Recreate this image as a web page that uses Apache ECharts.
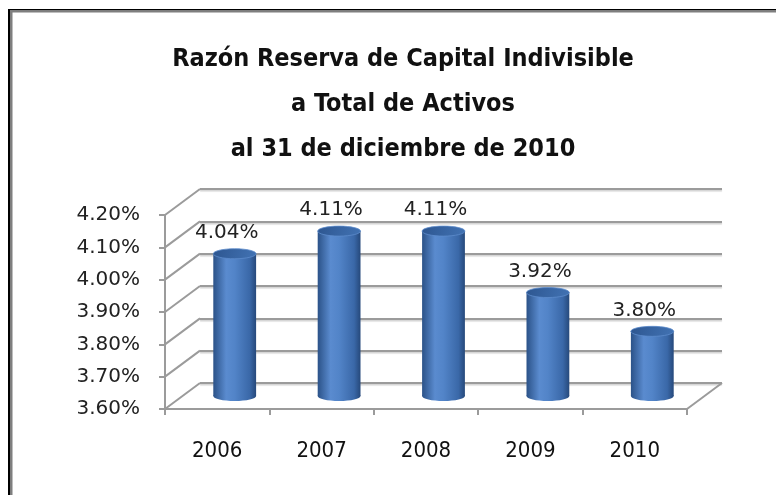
<!DOCTYPE html>
<html>
<head>
<meta charset="utf-8">
<script src="https://cdn.jsdelivr.net/npm/echarts@6/dist/echarts.min.js"></script>
<style>
  html, body { margin: 0; padding: 0; background: #fff; }
  #chart { width: 776px; height: 495px; }
</style>
</head>
<body>
<div id="chart"></div>
<script>
const titleLines = ['Razón Reserva de Capital Indivisible', 'a Total de Activos', 'al 31 de diciembre de 2010'];
const years = ['2006', '2007', '2008', '2009', '2010'];
const ratios = [4.04, 4.11, 4.11, 3.92, 3.80];
const yTicks = [3.6, 3.7, 3.8, 3.9, 4.0, 4.1, 4.2];

const Y_MIN = 3.6;
const Y_MAX = 4.2;
const DX = 35; // depth offset of the back wall
const DY = -26;
const GRID_W = 522;
const GRID_H = 194;
const FRONT = { left: 165, top: 215 };
const gridGray = '#9b9b9b';

const chart = echarts.init(document.getElementById('chart'));

const grids = [0, 0.5, 1].map(k => ({
    left: FRONT.left + DX * k,
    top: FRONT.top + DY * k,
    width: GRID_W,
    height: GRID_H,
}));

const yBase = {
    type: 'value',
    min: Y_MIN,
    max: Y_MAX,
    interval: 0.1,
};

chart.setOption({
    animation: false,
    title: {
        text: titleLines.join('\n'),
        left: 398,
        top: 32,
        textAlign: 'center',
        textStyle: {
            fontFamily: "'DejaVu Sans Condensed', 'DejaVu Sans', sans-serif",
            fontWeight: 'bold',
            fontSize: 25,
            lineHeight: 45,
            color: '#111',
        },
    },
    graphic: [
        { type: 'rect', shape: { x: 8, y: 9, width: 2, height: 486 }, style: { fill: '#000' } },
        { type: 'rect', shape: { x: 8, y: 9, width: 768, height: 1.5 }, style: { fill: '#000' } },
        { type: 'rect', shape: { x: 10, y: 10.5, width: 2.5, height: 485 }, style: { fill: '#7f7f7f' } },
        { type: 'rect', shape: { x: 10, y: 10.5, width: 766, height: 2 }, style: { fill: '#7f7f7f' } },
    ],
    grid: grids,
    xAxis: [
        {
            gridIndex: 0,
            type: 'category',
            data: years,
            axisLine: { lineStyle: { color: gridGray, width: 2 } },
            axisTick: { show: true, length: 6, lineStyle: { color: gridGray, width: 2 } },
            axisLabel: {
                margin: 31,
                fontSize: 22,
                color: '#111',
                fontFamily: "'DejaVu Sans Condensed', 'DejaVu Sans', sans-serif",
            },
        },
        { gridIndex: 1, type: 'category', data: years, show: false },
        { gridIndex: 2, type: 'category', data: years, show: false },
    ],
    yAxis: [
        {
            ...yBase,
            gridIndex: 0,
            axisLine: { show: true, lineStyle: { color: gridGray, width: 2 } },
            axisTick: { show: true, length: 6, lineStyle: { color: gridGray, width: 2 } },
            splitLine: { show: false },
            axisLabel: {
                margin: 25,
                fontSize: 20,
                color: '#222',
                fontFamily: "'DejaVu Sans', sans-serif",
                formatter: v => v.toFixed(2) + '%',
            },
        },
        { ...yBase, gridIndex: 1, show: false },
        {
            ...yBase,
            gridIndex: 2,
            axisLine: { show: false },
            axisTick: { show: false },
            axisLabel: { show: false },
            splitLine: {
                show: true,
                lineStyle: {
                    color: gridGray,
                    width: 2,
                    shadowColor: 'rgba(0,0,0,0.18)',
                    shadowOffsetY: 1.5,
                    shadowBlur: 1,
                },
            },
        },
    ],
    series: [
        {
            // side wall and floor edges linking the front axis to the back wall
            type: 'custom',
            xAxisIndex: 0,
            yAxisIndex: 0,
            silent: true,
            data: yTicks.map(v => [0, v]),
            renderItem: (params, api) => {
                const cs = params.coordSys;
                const y = api.coord([0, api.value(1)])[1];
                const children = [{
                    type: 'line',
                    shape: { x1: cs.x, y1: y, x2: cs.x + DX, y2: y + DY },
                    style: { stroke: gridGray, lineWidth: 2 },
                }];
                if (api.value(1) === Y_MIN) {
                    const xr = cs.x + cs.width;
                    children.push({
                        type: 'line',
                        shape: { x1: xr, y1: y, x2: xr + DX, y2: y + DY },
                        style: { stroke: gridGray, lineWidth: 2 },
                    });
                }
                return { type: 'group', children };
            },
        },
        {
            // cylinders
            type: 'custom',
            xAxisIndex: 1,
            yAxisIndex: 1,
            data: ratios.map((v, i) => [i, v]),
            renderItem: (params, api) => {
                const top = api.coord([api.value(0), api.value(1)]);
                const base = api.coord([api.value(0), Y_MIN]);
                const w = api.size([1, 0])[0] * 0.41;
                const rx = w / 2;
                const ry = 5;
                const cx = top[0];
                const bodyFill = new echarts.graphic.LinearGradient(0, 0, 1, 0, [
                    { offset: 0, color: '#2b5288' },
                    { offset: 0.3, color: '#5a8bcf' },
                    { offset: 0.5, color: '#5284c8' },
                    { offset: 0.85, color: '#3a68a8' },
                    { offset: 1, color: '#26497b' },
                ]);
                return {
                    type: 'group',
                    children: [
                        {
                            type: 'ellipse',
                            shape: { cx, cy: base[1], rx, ry },
                            style: { fill: bodyFill },
                        },
                        {
                            type: 'rect',
                            shape: { x: cx - rx, y: top[1], width: w, height: base[1] - top[1] },
                            style: { fill: bodyFill },
                        },
                        {
                            type: 'ellipse',
                            shape: { cx, cy: top[1], rx, ry },
                            style: {
                                fill: new echarts.graphic.LinearGradient(0, 0, 1, 1, [
                                    { offset: 0, color: '#2d5690' },
                                    { offset: 1, color: '#4273b4' },
                                ]),
                                stroke: '#5d8ccc',
                                lineWidth: 0.8,
                            },
                        },
                        {
                            type: 'text',
                            style: {
                                x: cx - 8,
                                y: top[1] - 21,
                                text: api.value(1).toFixed(2) + '%',
                                align: 'center',
                                verticalAlign: 'middle',
                                fontSize: 20,
                                fontFamily: "'DejaVu Sans', sans-serif",
                                fill: '#222',
                            },
                        },
                    ],
                };
            },
        },
    ],
});
</script>
</body>
</html>
